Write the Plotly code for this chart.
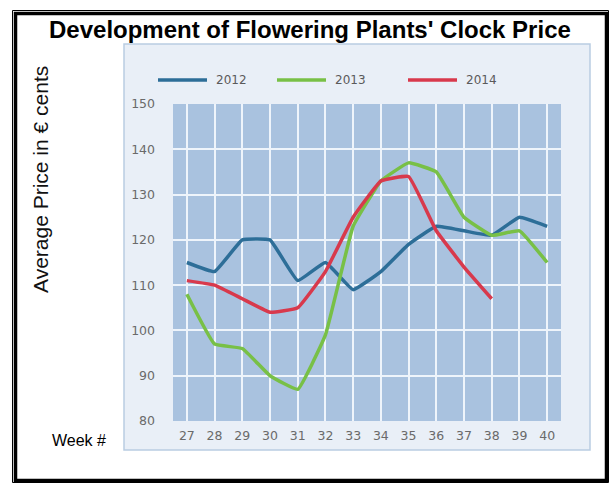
import plotly.graph_objects as go

# ---- data ----
weeks = [27, 28, 29, 30, 31, 32, 33, 34, 35, 36, 37, 38, 39, 40]
series_names = ["2012", "2013", "2014"]
price_2012 = [115, 113, 120, 120, 111, 115, 109, 113, 119, 123, 122, 121, 125, 123]
price_2013 = [108, 97, 96, 90, 87, 99, 123, 133, 137, 135, 125, 121, 122, 115]
price_2014 = [111, 110, 107, 104, 105, 113, 125, 133, 134, 122, 114, 107]
y_ticks = [80, 90, 100, 110, 120, 130, 140, 150]

series_values = [price_2012, price_2013, price_2014]
colors = ["#2d6e98", "#78c046", "#d8394c"]

W, H = 609, 484
L, R, T, B = 173, 561, 104, 421  # plot area in pixels


def px(x):
    return (x - L) / (R - L)


def py(y):
    return (B - y) / (B - T)


fig = go.Figure()
for name, vals, col in zip(series_names, series_values, colors):
    fig.add_trace(go.Scatter(
        x=weeks[:len(vals)], y=vals, mode="lines", name=name,
        line=dict(color=col, width=3.5, shape="spline", smoothing=0.3),
        showlegend=False,
    ))

shapes = [
    # outer double border
    dict(type="rect", xref="paper", yref="paper", x0=px(12.5), x1=px(608.5), y0=py(482.5), y1=py(10.5),
         line=dict(color="black", width=1), fillcolor="rgba(0,0,0,0)", layer="above"),
    dict(type="rect", xref="paper", yref="paper", x0=px(15.5), x1=px(606.5), y0=py(480.5), y1=py(13.5),
         line=dict(color="black", width=3.5), fillcolor="rgba(0,0,0,0)", layer="above"),
    # chart panel
    dict(type="rect", xref="paper", yref="paper", x0=px(124), x1=px(590), y0=py(450), y1=py(44),
         line=dict(color="#b9cde2", width=1.5), fillcolor="#e9eff7", layer="below"),
    # plot area
    dict(type="rect", xref="paper", yref="paper", x0=0, x1=1, y0=0, y1=1,
         line=dict(width=0), fillcolor="#a9c2df", layer="below"),
]

annotations = [
    dict(text="<b>Development of Flowering Plants' Clock Price</b>", xref="paper", yref="paper",
         x=px(310), y=py(30), xanchor="center", yanchor="middle", showarrow=False,
         font=dict(family="Liberation Sans, Arial", size=24, color="black")),
    dict(text="Average Price in € cents", xref="paper", yref="paper",
         x=px(40), y=py(180), xanchor="center", yanchor="middle", showarrow=False, textangle=-90,
         font=dict(family="Liberation Sans, Arial", size=21, color="#111111")),
    dict(text="Week #", xref="paper", yref="paper",
         x=px(50), y=py(440), xanchor="left", yanchor="middle", showarrow=False,
         font=dict(family="Liberation Sans, Arial", size=16, color="black")),
]

# manual legend
leg_x = [158, 277, 408]
for name, col, lx in zip(series_names, colors, leg_x):
    shapes.append(dict(type="line", xref="paper", yref="paper", x0=px(lx), x1=px(lx + 49),
                       y0=py(80), y1=py(80), line=dict(color=col, width=3.6)))
    annotations.append(dict(text=name, xref="paper", yref="paper", x=px(lx + 56), y=py(80),
                            xanchor="left", yanchor="middle", showarrow=False,
                            font=dict(family="DejaVu Sans", size=12, color="#5a5a5a")))

fig.update_layout(
    width=W, height=H,
    margin=dict(l=L, r=W - R, t=T, b=H - B),
    paper_bgcolor="white", plot_bgcolor="rgba(0,0,0,0)",
    shapes=shapes, annotations=annotations,
    showlegend=False,
)
tick_font = dict(family="DejaVu Sans", size=12.5, color="#6a6a6a")
fig.update_xaxes(range=[26.5, 40.5], tickvals=weeks, ticktext=[str(w) for w in weeks],
                 showgrid=True, gridcolor="#eef4fb", gridwidth=1.5, zeroline=False, showline=False,
                 ticklabelstandoff=5, tickfont=tick_font)
fig.update_yaxes(range=[80, 150], tickvals=y_ticks, ticktext=[str(v) for v in y_ticks],
                 showgrid=True, gridcolor="#eef4fb", gridwidth=1.5, zeroline=False, showline=False,
                 ticklabelstandoff=17, tickfont=tick_font)

fig.write_html("out.html", config={"displayModeBar": False},
               post_script="document.body.style.margin='0';document.body.style.overflow='hidden';")
